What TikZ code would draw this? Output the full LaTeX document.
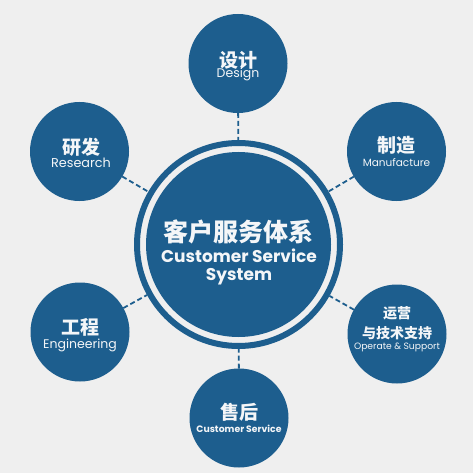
\documentclass[tikz,border=0pt]{standalone}
\usepackage{fontspec}
\setmainfont{Poppins}
\newfontfamily\cjk{Noto Sans CJK SC}
\definecolor{cblue}{HTML}{1D5E8E}
\definecolor{bg}{HTML}{EFEFEF}
\definecolor{txt}{HTML}{F4F6F8}
\begin{document}
\begin{tikzpicture}[x=1pt,y=-1pt,
  sat/.style={circle,fill=cblue,minimum size=99pt,inner sep=0pt,outer sep=0pt},
  link/.style={draw=cblue,line width=1.8pt,dash pattern=on 5pt off 3pt},
  zh/.style={text=txt,inner sep=0pt,font=\cjk\bfseries\fontsize{#1}{#1}\selectfont},
  en/.style={text=txt,inner sep=0pt,font=\fontsize{#1}{#1}\selectfont},
  enb/.style={text=txt,inner sep=0pt,font=\bfseries\fontsize{#1}{#1}\selectfont}]
\fill[bg] (0,0) rectangle (473,473);
\useasboundingbox (0,0) rectangle (473,473);
% central ring and core
\node[circle,draw=cblue,line width=6pt,minimum size=203pt,inner sep=0pt] (ring) at (238.5,244.5) {};
\node[circle,fill=cblue,minimum size=185pt,inner sep=0pt] (core) at (238.5,244.5) {};
% satellites
\node[sat] (design) at (238,63.5) {};
\node[sat] (research) at (79.5,151.5) {};
\node[sat] (manu) at (396.5,151.5) {};
\node[sat] (engi) at (80,332) {};
\node[sat] (oper) at (397,334) {};
\node[sat] (serv) at (239,418) {};
% connectors
\draw[link] (design) -- (ring);
\draw[link] (research) -- (ring);
\draw[link] (manu) -- (ring);
\draw[link] (engi) -- (ring);
\draw[link] (oper) -- (ring);
\draw[link] (serv) -- (ring);
% central text
\node[zh=25] (t1) at (238.5,232) {客户服务体系};
\node[enb=17] (t2) at (239,256) {Customer Service};
\node[enb=17] (t3) at (239,277) {System};
% satellite texts
\node[zh=19] (d1) at (238,60) {设计};
\node[en=12.5] (d2) at (238,74.5) {Design};
\node[zh=19] (r1) at (81,147) {研发};
\node[en=12.8] (r2) at (81,163) {Research};
\node[zh=19] (m1) at (396,145) {制造};
\node[en=10.5] (m2) at (396.5,163) {Manufacture};
\node[zh=19] (e1) at (80,327) {工程};
\node[en=12.5] (e2) at (80,345) {Engineering};
\node[zh=19] (s1) at (239,412) {售后};
\node[enb=9.3] (s2) at (239,429) {Customer Service};
\node[zh=14] (o1) at (397,313) {运营};
\node[zh=14] (o2) at (397,333) {与技术支持};
\node[en=9.2] (o3) at (397,347) {Operate \& Support};
\end{tikzpicture}
\end{document}
